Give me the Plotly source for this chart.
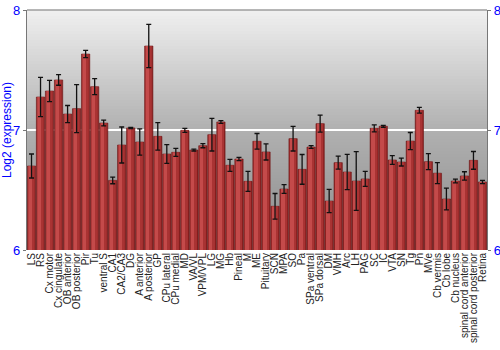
import plotly.graph_objects as go

regions = ["LS", "RS", "Cx motor", "Cx cingulate", "OB anterior", "OB posterior", "Pir", "Tu",
           "ventral S", "CA1", "CA2/CA3", "DG", "A anterior", "A posterior", "GP", "CPu lateral",
           "CPu medial", "MD", "VA/VL", "VPM/VPL", "LG", "MG", "Hb", "Pineal", "M", "ME",
           "Pituitary", "SCN", "MPA", "SO", "Pa", "SPa ventral", "SPa dorsal", "DM", "VMH", "Arc",
           "LH", "PAG", "SC", "IC", "VTA", "SN", "Tg", "Pn", "MVe", "Cb vermis", "Cb lobe",
           "Cb nucleus", "spinal cord anterior", "spinal cord posterior", "Retina"]

expression = [6.70, 7.275, 7.325, 7.417, 7.133, 7.178, 7.633, 7.361,
              7.058, 6.58, 6.875, 7.017, 6.90, 7.70, 6.947, 6.80,
              6.814, 6.997, 6.833, 6.869, 6.961, 7.067, 6.706, 6.758, 6.572, 6.906,
              6.817, 6.364, 6.508, 6.928, 6.672, 6.858, 7.053, 6.408, 6.728, 6.65,
              6.575, 6.592, 7.014, 7.031, 6.75, 6.733, 6.908, 7.164, 6.736, 6.64, 6.425,
              6.575, 6.617, 6.747, 6.567]

error = [0.10, 0.163, 0.088, 0.044, 0.071, 0.20, 0.03, 0.067,
         0.024, 0.028, 0.15, 0.005, 0.11, 0.18, 0.115, 0.078,
         0.033, 0.017, 0.008, 0.017, 0.136, 0.011, 0.05, 0.014, 0.083, 0.065,
         0.067, 0.107, 0.036, 0.103, 0.124, 0.011, 0.071, 0.097, 0.054, 0.147,
         0.244, 0.0625, 0.029, 0.008, 0.036, 0.033, 0.071, 0.024, 0.067, 0.0875, 0.09,
         0.015, 0.035, 0.074, 0.014]

y_ticks = [6, 7, 8]
y_range = [6, 8]

fig = go.Figure()

# base bar (dark red)
fig.add_trace(go.Bar(x=regions, y=expression, width=0.92,
                     marker=dict(color="#8c2222", line=dict(color="#6e1616", width=0.6)),
                     showlegend=False, hoverinfo="skip"))
# highlight (lighter left part)
fig.add_trace(go.Bar(x=regions, y=expression, width=0.5, offset=-0.36,
                     marker=dict(color="#c44a4a", line=dict(width=0)),
                     showlegend=False, hoverinfo="skip"))
fig.add_trace(go.Bar(x=regions, y=expression, width=0.22, offset=0.12,
                     marker=dict(color="#a93333", line=dict(width=0)),
                     showlegend=False, hoverinfo="skip"))
# error bars (on the right-hand axis, same scale)
fig.add_trace(go.Bar(x=regions, y=expression, width=0.92, yaxis="y2",
                     marker=dict(color="rgba(0,0,0,0)", line=dict(width=0)),
                     error_y=dict(type="data", array=error, color="#111111", thickness=1.3, width=2.5),
                     showlegend=False, hoverinfo="skip"))

# gradient background stripes
shapes = []
n = 80
for i in range(n):
    t0 = i / n
    t1 = (i + 1) / n
    tm = (t0 + t1) / 2  # 0 bottom, 1 top
    if tm >= 0.5:
        g = 176 + (240 - 176) * (tm - 0.5) / 0.5
    else:
        g = 140 + (176 - 140) * tm / 0.5
    g = int(round(g))
    shapes.append(dict(type="rect", xref="paper", yref="paper", x0=0, x1=1, y0=t0, y1=t1 + 0.002,
                       fillcolor=f"rgb({g},{g},{g})", line=dict(width=0), layer="below"))
shapes.append(dict(type="line", xref="paper", yref="paper", x0=0, x1=1, y0=1, y1=1,
                   line=dict(color="#777777", width=1.2)))

fig.update_layout(
    width=500, height=350,
    margin=dict(l=27, r=13, t=10, b=100, autoexpand=False),
    paper_bgcolor="white", plot_bgcolor="#b0b0b0",
    barmode="overlay",
    shapes=shapes,
    font=dict(family="Liberation Sans, Arial, sans-serif"),
    xaxis=dict(tickangle=-90, tickmode="linear", dtick=1, tick0=0, range=[-0.5, len(regions) - 0.5],
               tickfont=dict(size=10, color="#222222"), showgrid=False,
               ticks="", showline=False, zeroline=False, automargin=False),
    yaxis=dict(range=y_range, tickvals=y_ticks,
               tickfont=dict(size=13, color="#0000ff"), showgrid=True, gridcolor="white",
               gridwidth=1.5, zeroline=False, showline=True, linecolor="#777777", linewidth=1.2,
               ticks="outside", ticklen=3, tickcolor="#777777",
               title=dict(text="Log2 (expression)", font=dict(size=12, color="#0000ff")),
               automargin=False),
    yaxis2=dict(range=y_range, tickvals=y_ticks, anchor="x",
                overlaying="y", side="right", showgrid=False, zeroline=False,
                tickfont=dict(size=13, color="#0000ff"), showline=True, linecolor="#777777",
                linewidth=1.2, ticks="outside", ticklen=3, tickcolor="#777777", automargin=False),
)

fig.write_html("out.html")
